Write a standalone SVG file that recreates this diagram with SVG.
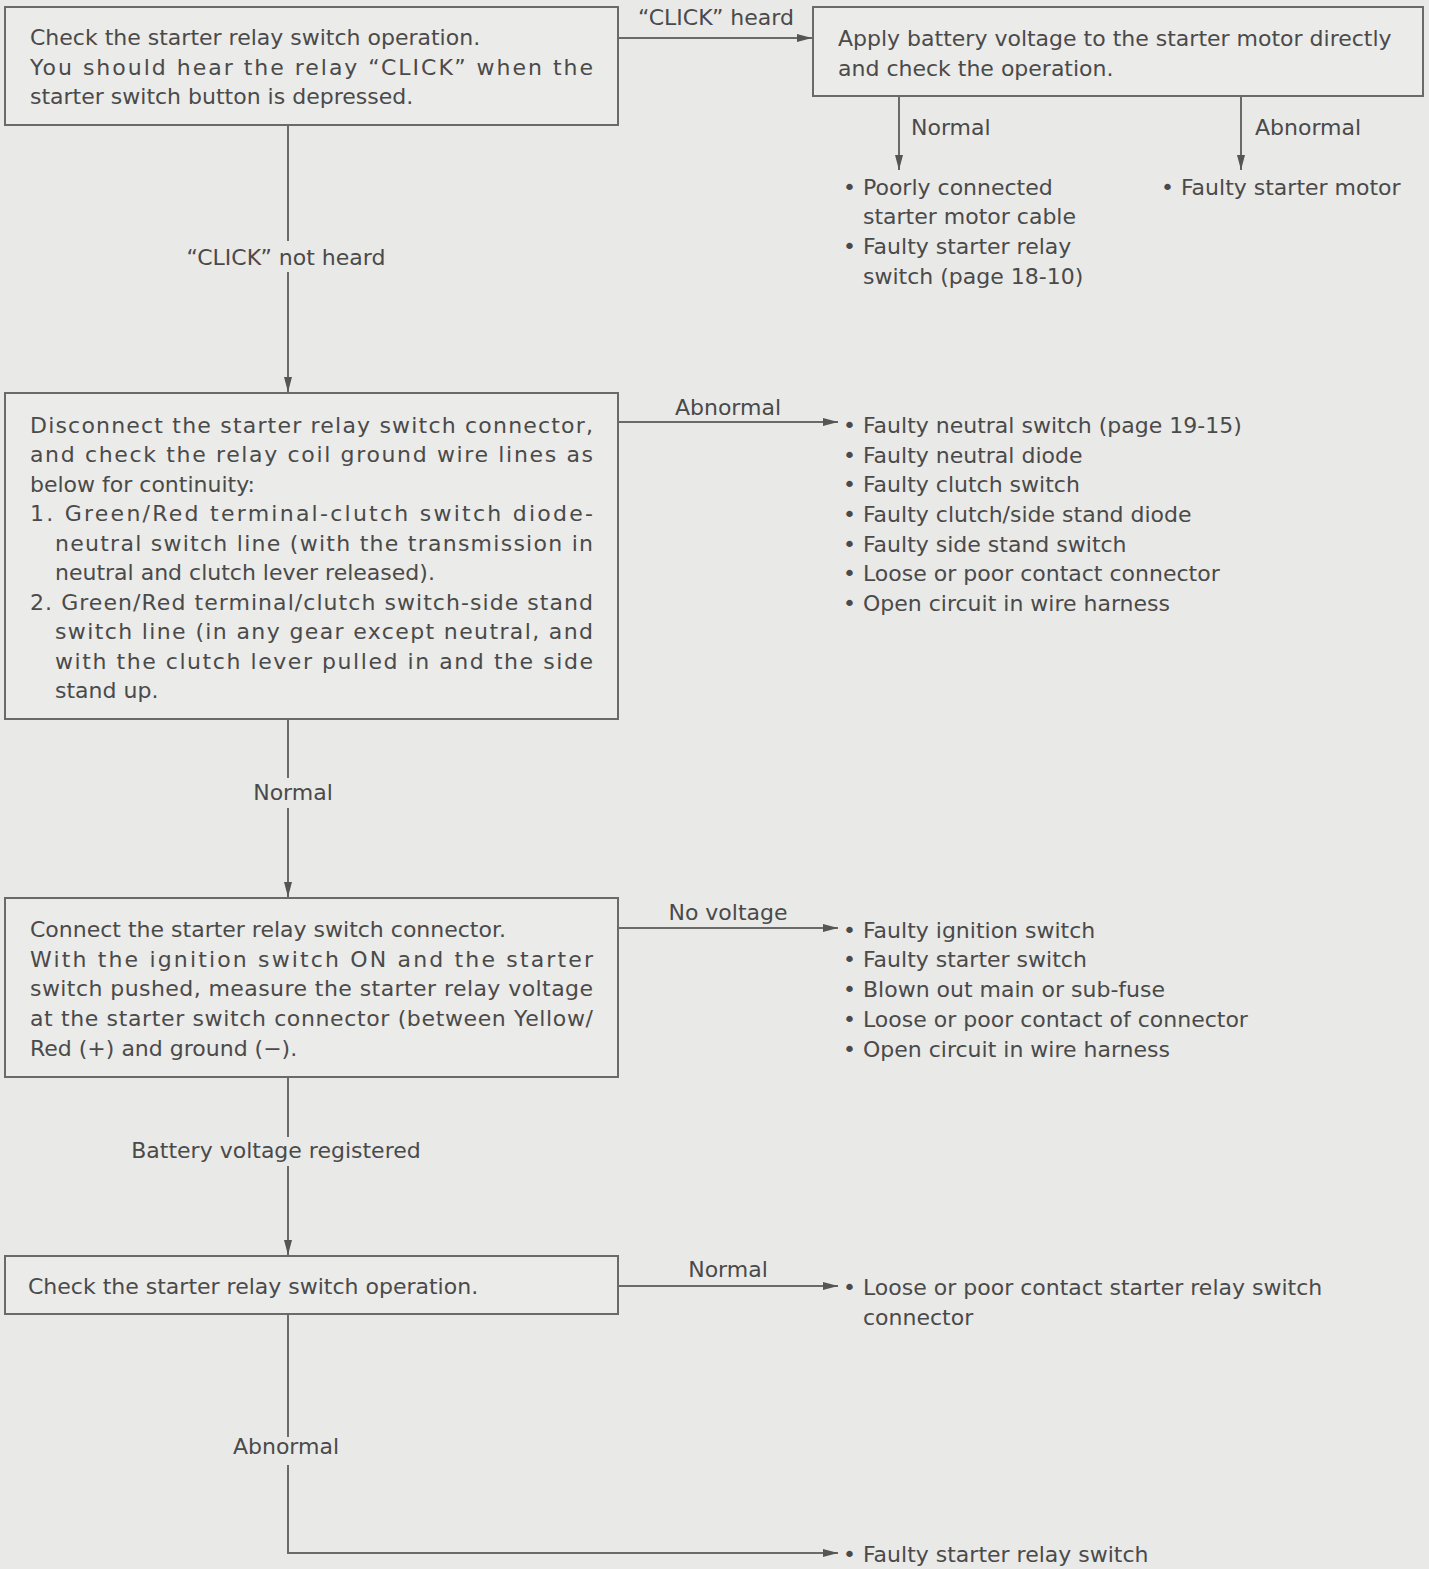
<svg xmlns="http://www.w3.org/2000/svg" width="1429" height="1569" viewBox="0 0 1429 1569">
<defs>
<style>
text{font-family:"DejaVu Sans","Liberation Sans",sans-serif;font-size:22px;fill:#4a4a4a}
.box{fill:#ebebe9;stroke:#6a6a6a;stroke-width:2}
.ln{fill:none;stroke:#6a6a6a;stroke-width:2}
.mid{text-anchor:middle}
.gap{fill:#e9e9e7}
</style>
<marker id="ah" viewBox="0 0 15 9" refX="15" refY="4.5" markerWidth="15" markerHeight="9" markerUnits="userSpaceOnUse" orient="auto">
<path d="M0,0.5 L15,4.5 L0,8.5 Z" fill="#555"/>
</marker>
</defs>
<rect width="1429" height="1569" fill="#e9e9e7"/>

<g id="connectors">
<line class="ln" x1="618" y1="38" x2="812" y2="38" marker-end="url(#ah)"/>
<line class="ln" x1="288" y1="125" x2="288" y2="392" marker-end="url(#ah)"/>
<line class="ln" x1="899" y1="96" x2="899" y2="170" marker-end="url(#ah)"/>
<line class="ln" x1="1241" y1="96" x2="1241" y2="170" marker-end="url(#ah)"/>
<line class="ln" x1="618" y1="422" x2="838" y2="422" marker-end="url(#ah)"/>
<line class="ln" x1="288" y1="719" x2="288" y2="897" marker-end="url(#ah)"/>
<line class="ln" x1="618" y1="928" x2="838" y2="928" marker-end="url(#ah)"/>
<line class="ln" x1="288" y1="1077" x2="288" y2="1255" marker-end="url(#ah)"/>
<line class="ln" x1="618" y1="1286" x2="838" y2="1286" marker-end="url(#ah)"/>
<polyline class="ln" points="288,1314 288,1553 838,1553" marker-end="url(#ah)"/>
<rect class="gap" x="282" y="241" width="12" height="31"/>
<rect class="gap" x="282" y="778" width="12" height="30"/>
<rect class="gap" x="282" y="1137" width="12" height="29"/>
<rect class="gap" x="282" y="1437" width="12" height="28"/>
<text class="mid" x="716" y="25">“CLICK” heard</text>
<text class="mid" x="286" y="265">“CLICK” not heard</text>
<text x="911" y="135">Normal</text>
<text x="1255" y="135">Abnormal</text>
<text class="mid" x="728" y="415">Abnormal</text>
<text class="mid" x="293" y="800">Normal</text>
<text class="mid" x="728" y="920">No voltage</text>
<text class="mid" x="276" y="1158">Battery voltage registered</text>
<text class="mid" x="728" y="1277">Normal</text>
<text class="mid" x="286" y="1454">Abnormal</text>
</g>

<g id="n1">
<rect class="box" x="5" y="7" width="613" height="118"/>
<text x="30" y="45">Check the starter relay switch operation.</text>
<text x="30" y="75" textLength="563" lengthAdjust="spacing">You should hear the relay “CLICK” when the</text>
<text x="30" y="104">starter switch button is depressed.</text>
</g>

<g id="n2">
<rect class="box" x="813" y="7" width="610" height="89"/>
<text x="838" y="46">Apply battery voltage to the starter motor directly</text>
<text x="838" y="76">and check the operation.</text>
</g>

<g id="r1">
<text x="843" y="195">• Poorly connected</text>
<text x="863" y="224">starter motor cable</text>
<text x="843" y="254">• Faulty starter relay</text>
<text x="863" y="284">switch (page 18-10)</text>
</g>

<g id="r2">
<text x="1161" y="195">• Faulty starter motor</text>
</g>

<g id="n3">
<rect class="box" x="5" y="393" width="613" height="326"/>
<text x="30" y="433" textLength="563" lengthAdjust="spacing">Disconnect the starter relay switch connector,</text>
<text x="30" y="462" textLength="563" lengthAdjust="spacing">and check the relay coil ground wire lines as</text>
<text x="30" y="492">below for continuity:</text>
<text x="30" y="521" textLength="563" lengthAdjust="spacing">1. Green/Red terminal-clutch switch diode-</text>
<text x="55" y="551" textLength="538" lengthAdjust="spacing">neutral switch line (with the transmission in</text>
<text x="55" y="580">neutral and clutch lever released).</text>
<text x="30" y="610" textLength="563" lengthAdjust="spacing">2. Green/Red terminal/clutch switch-side stand</text>
<text x="55" y="639" textLength="538" lengthAdjust="spacing">switch line (in any gear except neutral, and</text>
<text x="55" y="669" textLength="538" lengthAdjust="spacing">with the clutch lever pulled in and the side</text>
<text x="55" y="698">stand up.</text>
</g>

<g id="r3">
<text x="843" y="433">• Faulty neutral switch (page 19-15)</text>
<text x="843" y="463">• Faulty neutral diode</text>
<text x="843" y="492">• Faulty clutch switch</text>
<text x="843" y="522">• Faulty clutch/side stand diode</text>
<text x="843" y="552">• Faulty side stand switch</text>
<text x="843" y="581">• Loose or poor contact connector</text>
<text x="843" y="611">• Open circuit in wire harness</text>
</g>

<g id="n4">
<rect class="box" x="5" y="898" width="613" height="179"/>
<text x="30" y="937">Connect the starter relay switch connector.</text>
<text x="30" y="967" textLength="563" lengthAdjust="spacing">With the ignition switch ON and the starter</text>
<text x="30" y="996" textLength="563" lengthAdjust="spacing">switch pushed, measure the starter relay voltage</text>
<text x="30" y="1026" textLength="563" lengthAdjust="spacing">at the starter switch connector (between Yellow/</text>
<text x="30" y="1056">Red (+) and ground (−).</text>
</g>

<g id="r4">
<text x="843" y="938">• Faulty ignition switch</text>
<text x="843" y="967">• Faulty starter switch</text>
<text x="843" y="997">• Blown out main or sub-fuse</text>
<text x="843" y="1027">• Loose or poor contact of connector</text>
<text x="843" y="1057">• Open circuit in wire harness</text>
</g>

<g id="n5">
<rect class="box" x="5" y="1256" width="613" height="58"/>
<text x="28" y="1294">Check the starter relay switch operation.</text>
</g>

<g id="r5">
<text x="843" y="1295">• Loose or poor contact starter relay switch</text>
<text x="863" y="1325">connector</text>
</g>

<g id="r6">
<text x="843" y="1562">• Faulty starter relay switch</text>
</g>
</svg>
